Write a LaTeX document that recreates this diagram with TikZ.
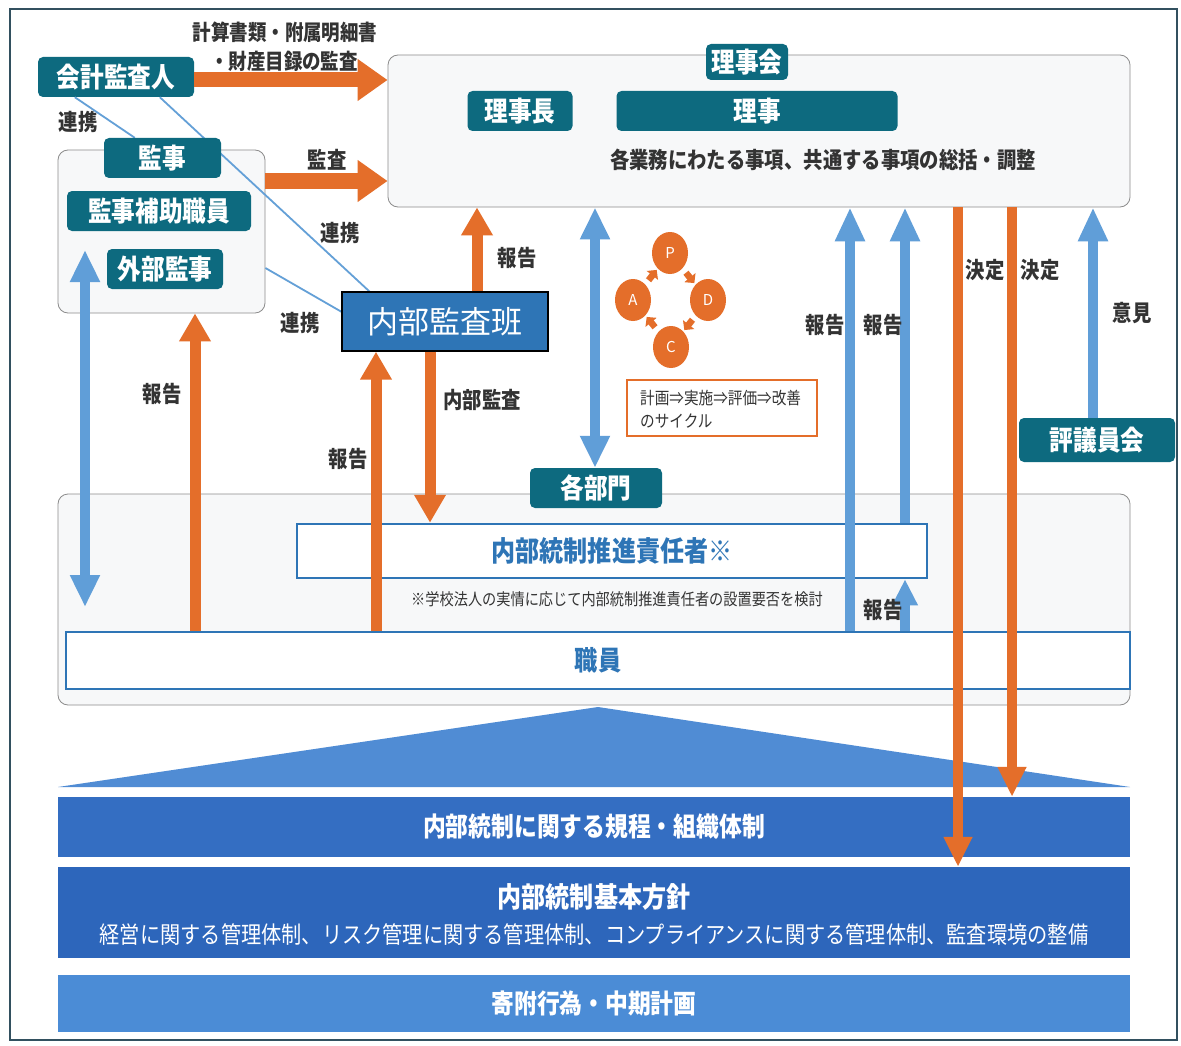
\documentclass[tikz,border=0pt]{standalone}
\usepackage{fontspec}
\setmainfont{Noto Sans CJK JP}[FakeStretch=0.86]
\newfontfamily\plainjp{Noto Sans CJK JP}
\usetikzlibrary{arrows.meta,shapes.geometric,calc}
\definecolor{tealc}{RGB}{13,106,127}
\definecolor{orangec}{RGB}{228,110,42}
\definecolor{bluec}{RGB}{96,158,216}
\definecolor{bluel}{RGB}{100,160,215}
\definecolor{boxblue}{RGB}{46,117,182}
\definecolor{txtc}{RGB}{51,51,51}
\definecolor{grpfill}{RGB}{247,248,249}
\definecolor{grpline}{RGB}{140,140,140}
\definecolor{barA}{RGB}{52,110,194}
\definecolor{barB}{RGB}{45,102,187}
\definecolor{barC}{RGB}{75,140,214}
\definecolor{tric}{RGB}{80,140,212}
\definecolor{framec}{RGB}{50,80,95}
\newcommand\fsz[1]{\fontsize{#1}{#1}\selectfont}
\begin{document}
\begin{tikzpicture}[x=1pt,y=-1pt,
  tealbox/.style={fill=tealc, rounded corners=5pt, text=white, font=\bfseries\fsz{27.5}, inner sep=0pt, align=center},
  grp/.style={fill=grpfill, draw=grpline, line width=0.8pt, rounded corners=10pt, inner sep=0pt},
  lbl/.style={text=txtc, font=\bfseries\fsz{22.5}, inner sep=0pt},
  wbox/.style={fill=white, draw=boxblue, line width=2.5pt, inner sep=0pt, text=boxblue},
  bar/.style={inner sep=0pt, text=white, minimum width=1072pt, align=center},
  oarrow/.style={draw=orangec, line width=11pt, -{Triangle[width=30pt,length=28pt]}},
  bigo/.style={draw=orangec, line width=15pt, -{Triangle[width=40pt,length=30pt]}},
  oline/.style={draw=orangec, line width=10pt, -{Triangle[width=27pt,length=30pt]}},
  barrow/.style={draw=bluec, line width=10pt, -{Triangle[width=28pt,length=34pt]}},
  bdarrow/.style={draw=bluec, line width=10pt, {Triangle[width=28pt,length=32pt]}-{Triangle[width=28pt,length=32pt]}},
  thinb/.style={draw=bluel, line width=1.8pt},
  pdca/.style={ellipse, fill=orangec, minimum width=36pt, minimum height=42pt, inner sep=0pt, text=white, font=\plainjp\fsz{15}},
  parr/.style={draw=orangec, line width=6.5pt, -{Triangle[width=14pt,length=7pt]}}
]
\useasboundingbox (0,0) rectangle (1181,1046);
\fill[white] (0,0) rectangle (1181,1046);
\draw[framec, line width=1.2pt] (10,9) rectangle (1177,1040);
\draw[framec, line width=2pt] (10,9) -- (1177,9);

% groups
\node[grp, minimum width=742pt, minimum height=152pt] (rj) at (759,131) {};
\node[grp, minimum width=207pt, minimum height=163pt] (kg) at (161.5,231.5) {};
\node[grp, minimum width=1072pt, minimum height=211pt] (bg) at (594,599.5) {};

% base triangle and bars
\fill[tric] (58,787) -- (598,707) -- (1130,787) -- cycle;
\node[bar, fill=barA, minimum height=60pt, font=\bfseries\fsz{26.5}] (b1) at (594,827) {内部統制に関する規程・組織体制};
\node[bar, fill=barB, minimum height=91pt] (b2) at (594,912.5) {};
\node[text=white, font=\bfseries\fsz{28}, inner sep=0pt] at (594,897) {内部統制基本方針};
\node[text=white, font=\fsz{23.5}, inner sep=0pt] at (594,935) {経営に関する管理体制、リスク管理に関する管理体制、コンプライアンスに関する管理体制、監査環境の整備};
\node[bar, fill=barC, minimum height=57pt, font=\bfseries\fsz{26.5}] (b3) at (594,1003.5) {寄附行為・中期計画};

% inner boxes of bottom group
\node[wbox, minimum width=630pt, minimum height=54pt, font=\bfseries\fsz{28}] (sk) at (612,551) {内部統制推進責任者※};
\node[text=txtc, font=\fsz{16.5}, inner sep=0pt] at (617,599) {※学校法人の実情に応じて内部統制推進責任者の設置要否を検討};
\node[wbox, minimum width=1064pt, minimum height=57pt, font=\bfseries\fsz{27}] (sy) at (598,660.5) {職員};

% thin link lines
\node[tealbox, minimum width=156pt, minimum height=40pt] (kai) at (116,77) {会計監査人};
\node[minimum width=117pt, minimum height=40pt, inner sep=0pt] (kjpos) at (162.5,158) {};
\node[minimum width=206pt, minimum height=59pt, inner sep=0pt] (napos) at (445,321.5) {};
\draw[thinb] ($(kai.south west)+(37,0)$) -- ($(kjpos.north west)+(31,0)$);
\draw[thinb] ($(kai.south west)+(122,0)$) -- ($(napos.north west)+(28,0)$);
\draw[thinb] (kg.east |- 0,268) -- (napos.west |- 0,312);

% boxes
\node[tealbox, minimum width=117pt, minimum height=40pt] (kj) at (162.5,158) {監事};
\node[tealbox, minimum width=184pt, minimum height=40pt] (kh) at (159,211) {監事補助職員};
\node[tealbox, minimum width=116pt, minimum height=40pt] (gk) at (165,269) {外部監事};
\node[tealbox, minimum width=82pt, minimum height=36pt] (rjk) at (747,62) {理事会};
\node[tealbox, minimum width=105pt, minimum height=40pt] (rjc) at (520,111) {理事長};
\node[tealbox, minimum width=281pt, minimum height=40pt] (rjj) at (757,111) {理事};
\node[lbl] at (823,160) {各業務にわたる事項、共通する事項の総括・調整};
\node[tealbox, minimum width=132pt, minimum height=40pt] (kb) at (596,488) {各部門};
\node[tealbox, minimum width=156pt, minimum height=44pt] (hg) at (1097,440) {評議員会};
\node[fill=boxblue, draw=black, line width=1.3pt, minimum width=206pt, minimum height=59pt, inner sep=0pt, text=white, font=\plainjp\fsz{31}] (na) at (445,321.5) {内部監査班};

% big orange arrows
\draw[bigo] ($(kai.east)+(0,3)$) -- (rj.west |- 0,80);
\draw[bigo] (kg.east |- 0,181) -- (rj.west |- 0,181);
\node[lbl, font=\bfseries\fsz{21.5}] at (285,32) {計算書類・附属明細書};
\node[lbl, font=\bfseries\fsz{21.5}] at (284,61) {・財産目録の監査};
\node[lbl] at (327,160) {監査};

% orange arrows
\draw[oarrow] (na.north -| 477,0) -- (rj.south -| 477,0);
\draw[oarrow] (sy.north -| 376,0) -- (na.south -| 376,0);
\draw[oarrow] (na.south -| 430,0) -- (sk.north -| 430,0);
\draw[oarrow] (sy.north -| 195,0) -- (kg.south -| 195,0);

% blue arrows
\coordinate (l1) at (85,250);
\coordinate (l2) at (85,607);
\draw[bdarrow] (l1) -- (l2);
\draw[bdarrow] (rj.south -| 595,0) -- (kb.north -| 595,0);
\draw[barrow] (sy.north -| 850,0) -- (rj.south -| 850,0);
\draw[barrow] (sk.north -| 905,0) -- (rj.south -| 905,0);
\draw[draw=bluec, line width=10pt, -{Triangle[width=24pt,length=26pt]}] (sy.north -| 905,0) -- (sk.south -| 905,0);
\draw[barrow] (hg.north -| 1093,0) -- (rj.south -| 1093,0);

% decision lines
\draw[oline] (rj.south -| 958,0) -- (b2.north -| 958,0);
\draw[oline] (rj.south -| 1012,0) -- (b1.north -| 1012,0);

% labels
\node[lbl] at (78,122) {連携};
\node[lbl] at (340,233) {連携};
\node[lbl] at (300,323) {連携};
\node[lbl] at (162,394) {報告};
\node[lbl] at (348,459) {報告};
\node[lbl] at (517,258) {報告};
\node[lbl] at (482,400) {内部監査};
\node[lbl] at (825,325) {報告};
\node[lbl] at (883,325) {報告};
\node[lbl] at (883,610) {報告};
\node[lbl] at (985,270) {決定};
\node[lbl] at (1040,270) {決定};
\node[lbl] at (1132,313) {意見};

% PDCA cycle
\node[pdca] (P) at (670,253) {P};
\node[pdca] (A) at (633,300) {A};
\node[pdca] (D) at (708,300) {D};
\node[pdca] (C) at (671,347) {C};
\draw[parr] ($(P)!0.42!(D)$) -- ($(P)!0.64!(D)$);
\draw[parr] ($(D)!0.42!(C)$) -- ($(D)!0.64!(C)$);
\draw[parr] ($(C)!0.42!(A)$) -- ($(C)!0.64!(A)$);
\draw[parr] ($(A)!0.42!(P)$) -- ($(A)!0.64!(P)$);
\node[draw=orangec, line width=1.5pt, fill=white, minimum width=190pt, minimum height=56pt, inner sep=0pt] (cyc) at (722,408) {};
\node[anchor=west, text=txtc, font=\fsz{17}, inner sep=0pt] at (640,398) {計画⇒実施⇒評価⇒改善};
\node[anchor=west, text=txtc, font=\fsz{17}, inner sep=0pt] at (640,421) {のサイクル};
\end{tikzpicture}
\end{document}
